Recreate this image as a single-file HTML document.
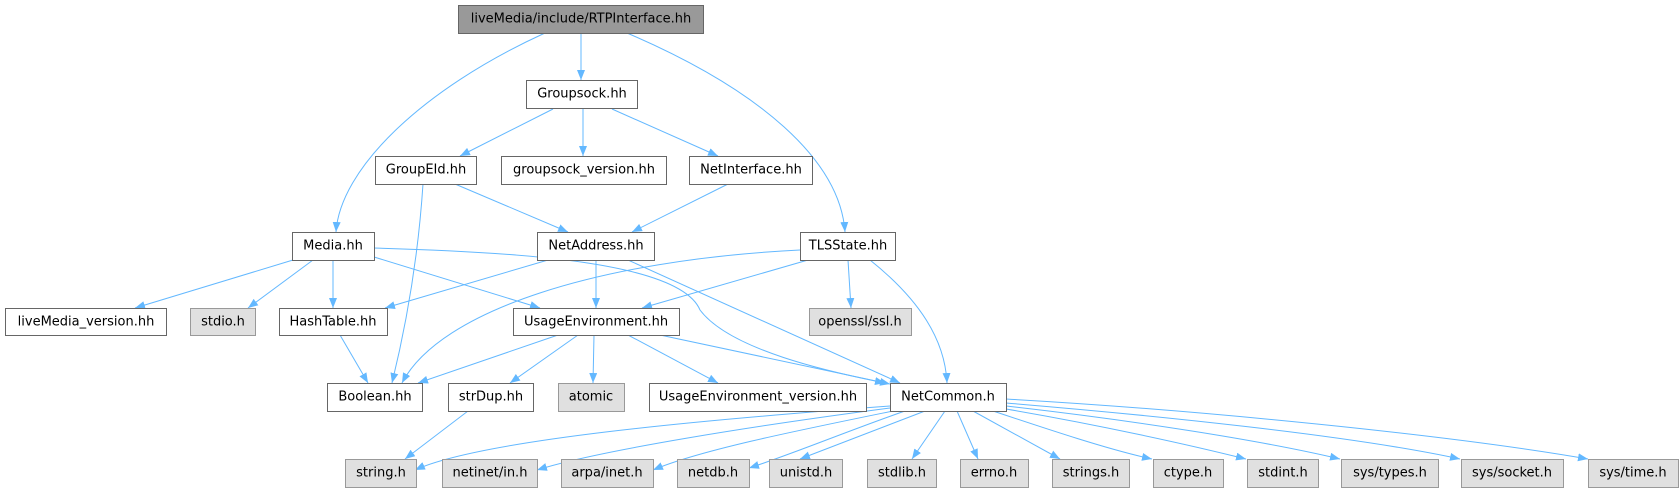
<!DOCTYPE html>
<html><head><meta charset="utf-8"><style>
html,body{margin:0;padding:0;background:#fff;}
svg text{font-family:"DejaVu Sans","Liberation Sans",sans-serif;font-size:13px;text-anchor:middle;dominant-baseline:central;fill:#000;}
</style></head><body>
<svg width="1680" height="492" viewBox="0 0 1680 492" xmlns="http://www.w3.org/2000/svg">
<defs>
<marker id="a" viewBox="0 0 10 8" refX="10" refY="4" markerWidth="10" markerHeight="8" markerUnits="userSpaceOnUse" orient="auto">
<path d="M0,0 L10,4 L0,8 z" fill="#63b8ff"/></marker>
</defs>
<g fill="none" stroke="#63b8ff" stroke-width="1" marker-end="url(#a)">
<path d="M545,33 C420,90 340,170 336,232"/>
<path d="M581,33 L581,80"/>
<path d="M627,33 C760,90 840,160 845,232"/>
<path d="M553,109 L460,156"/>
<path d="M583,109 L583,156"/>
<path d="M612,109 L718,156"/>
<path d="M455,184 L568,232"/>
<path d="M423,184 C418,260 405,330 392,383"/>
<path d="M728,184 L632,232"/>
<path d="M293,260 L135,308"/>
<path d="M313,260 L248,308"/>
<path d="M333,260 L333,308"/>
<path d="M374,257 L540,308"/>
<path d="M374,248 C520,252 680,262 700,310 C730,350 830,372 885,383"/>
<path d="M548,260 L385,308"/>
<path d="M596,260 L596,308"/>
<path d="M628,260 L900,383"/>
<path d="M800,250 C600,260 440,310 402,383"/>
<path d="M808,260 L642,308"/>
<path d="M848,260 L851,308"/>
<path d="M870,260 C920,300 945,340 947,383"/>
<path d="M558,335 L418,383"/>
<path d="M578,335 L510,383"/>
<path d="M594,335 L593,383"/>
<path d="M628,335 L718,383"/>
<path d="M660,335 L890,384"/>
<path d="M340,335 L368,383"/>
<path d="M468,411 L405,459"/>
<path d="M890,406 C700,420 480,440 415,470"/>
<path d="M890,408 C760,425 600,450 537,470"/>
<path d="M893,411 C800,430 700,450 653,470"/>
<path d="M905,411 C850,430 790,455 749,468"/>
<path d="M925,411 L800,459"/>
<path d="M945,411 L912,459"/>
<path d="M957,411 L978,459"/>
<path d="M973,411 L1060,459"/>
<path d="M993,411 C1050,430 1110,450 1152,459"/>
<path d="M1006,409 C1100,425 1190,445 1246,459"/>
<path d="M1006,406 C1130,420 1260,440 1340,459"/>
<path d="M1006,403 C1150,415 1350,435 1460,459"/>
<path d="M1006,399 C1200,410 1450,435 1588,459"/>
</g>
<g stroke="#666" stroke-width="1" fill="#fff">
<rect x="458.5" y="5.5" width="245" height="28" fill="#999"/>
<rect x="526.5" y="80.5" width="111" height="28"/>
<rect x="375.5" y="156.5" width="101" height="28"/>
<rect x="501.5" y="156.5" width="165" height="28"/>
<rect x="689.5" y="156.5" width="123" height="28"/>
<rect x="292.5" y="232.5" width="82" height="28"/>
<rect x="537.5" y="232.5" width="117" height="28"/>
<rect x="800.5" y="232.5" width="95" height="28"/>
<rect x="5.5" y="308.5" width="161" height="27"/>
<rect x="279.5" y="308.5" width="108" height="27"/>
<rect x="513.5" y="308.5" width="166" height="27"/>
<rect x="327.5" y="383.5" width="95" height="28"/>
<rect x="448.5" y="383.5" width="85" height="28"/>
<rect x="649.5" y="383.5" width="217" height="28"/>
<rect x="890.5" y="383.5" width="116" height="28"/>
</g>
<g stroke="#999" stroke-width="1" fill="#e0e0e0">
<rect x="190.5" y="308.5" width="65" height="27"/>
<rect x="809.5" y="308.5" width="102" height="27"/>
<rect x="558.5" y="383.5" width="66" height="28"/>
<rect x="345.5" y="459.5" width="71" height="28"/>
<rect x="442.5" y="459.5" width="95" height="28"/>
<rect x="561.5" y="459.5" width="92" height="28"/>
<rect x="677.5" y="459.5" width="72" height="28"/>
<rect x="769.5" y="459.5" width="73" height="28"/>
<rect x="867.5" y="459.5" width="69" height="28"/>
<rect x="960.5" y="459.5" width="68" height="28"/>
<rect x="1052.5" y="459.5" width="77" height="28"/>
<rect x="1153.5" y="459.5" width="70" height="28"/>
<rect x="1247.5" y="459.5" width="71" height="28"/>
<rect x="1341.5" y="459.5" width="97" height="28"/>
<rect x="1461.5" y="459.5" width="102" height="28"/>
<rect x="1588.5" y="459.5" width="90" height="28"/>
</g>
<g>
<text x="581" y="19">liveMedia/include/RTPInterface.hh</text>
<text x="582" y="94">Groupsock.hh</text>
<text x="426" y="170">GroupEId.hh</text>
<text x="584" y="170">groupsock_version.hh</text>
<text x="751" y="170">NetInterface.hh</text>
<text x="333" y="246">Media.hh</text>
<text x="596" y="246">NetAddress.hh</text>
<text x="848" y="246">TLSState.hh</text>
<text x="86" y="322">liveMedia_version.hh</text>
<text x="223" y="322">stdio.h</text>
<text x="333" y="322">HashTable.hh</text>
<text x="596" y="322">UsageEnvironment.hh</text>
<text x="860" y="322">openssl/ssl.h</text>
<text x="375" y="397">Boolean.hh</text>
<text x="491" y="397">strDup.hh</text>
<text x="591" y="397">atomic</text>
<text x="758" y="397">UsageEnvironment_version.hh</text>
<text x="948" y="397">NetCommon.h</text>
<text x="381" y="473">string.h</text>
<text x="490" y="473">netinet/in.h</text>
<text x="607" y="473">arpa/inet.h</text>
<text x="713" y="473">netdb.h</text>
<text x="806" y="473">unistd.h</text>
<text x="902" y="473">stdlib.h</text>
<text x="994" y="473">errno.h</text>
<text x="1091" y="473">strings.h</text>
<text x="1188" y="473">ctype.h</text>
<text x="1283" y="473">stdint.h</text>
<text x="1390" y="473">sys/types.h</text>
<text x="1512" y="473">sys/socket.h</text>
<text x="1633" y="473">sys/time.h</text>
</g>
</svg>
</body></html>
